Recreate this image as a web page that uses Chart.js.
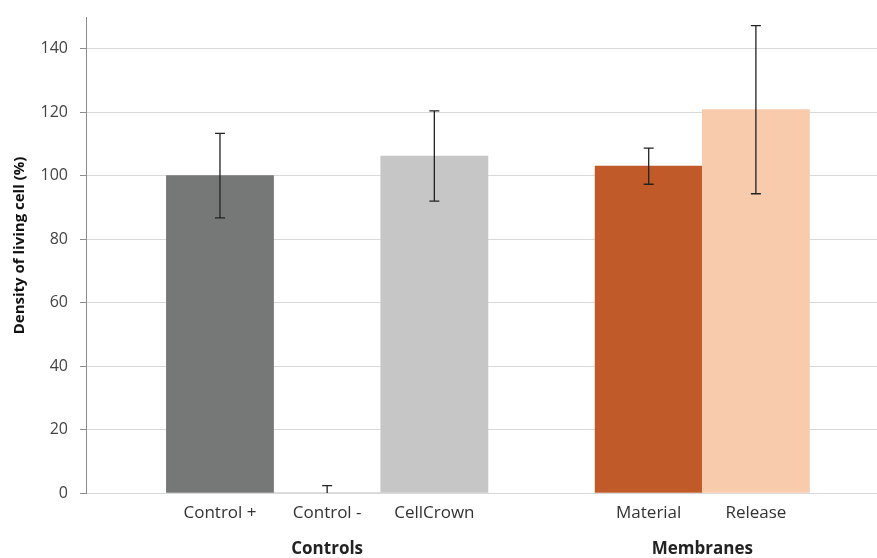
<!DOCTYPE html>
<html>
<head>
<meta charset="utf-8">
<script src="https://cdn.jsdelivr.net/npm/chart.js@4.4.1/dist/chart.umd.min.js"></script>
<style>
  body { margin: 0; background: #fff; }
  #wrap { width: 877px; height: 558px; }
</style>
</head>
<body>
<div id="wrap"><canvas id="cells"></canvas></div>
<script>
// data ('' is the empty slot between the two groups)
const categories = ["Control +", "Control -", "CellCrown", "", "Material", "Release"];
const groupOf = ["Controls", "Controls", "Controls", "", "Membranes", "Membranes"];
const density = [100, 0, 106.2, null, 103, 120.8];
const errors = [13.3, 2.3, 14.2, null, 5.7, 26.5];
const colors = ["#767877", "#767877", "#c6c6c6", "#ffffff", "#c05a28", "#f8cbad"];
const yTicks = [0, 20, 40, 60, 80, 100, 120, 140];
const yTitle = "Density of living cell (%)";

const font = "'Open Sans', sans-serif";

const points = [];
const barColors = [];
categories.forEach((c, i) => {
  if (density[i] === null) return;
  points.push({ x: i, y: density[i], err: errors[i] });
  barColors.push(colors[i]);
});

// error bars
const errorBars = {
  id: "errorBars",
  afterDatasetsDraw(chart) {
    const ctx = chart.ctx;
    const y = chart.scales.y;
    const meta = chart.getDatasetMeta(0);
    ctx.save();
    ctx.strokeStyle = "#222";
    ctx.lineWidth = 1.3;
    meta.data.forEach((bar, i) => {
      const p = points[i];
      const top = y.getPixelForValue(p.y + p.err);
      const bot = y.getPixelForValue(Math.max(0, p.y - p.err));
      ctx.beginPath();
      ctx.moveTo(bar.x, top);
      ctx.lineTo(bar.x, bot);
      ctx.moveTo(bar.x - 5, top);
      ctx.lineTo(bar.x + 5, top);
      if (p.y - p.err > 0) {
        ctx.moveTo(bar.x - 5, bot);
        ctx.lineTo(bar.x + 5, bot);
      }
      ctx.stroke();
    });
    ctx.restore();
  }
};

// group names under the category labels + the y title
const extraText = {
  id: "extraText",
  afterDraw(chart) {
    const ctx = chart.ctx;
    const x = chart.scales.x;
    const area = chart.chartArea;
    const names = [...new Set(groupOf.filter(g => g))];
    ctx.save();
    ctx.font = "bold 17px " + font;
    ctx.fillStyle = "#222";
    ctx.textAlign = "center";
    ctx.textBaseline = "middle";
    names.forEach(name => {
      const idx = groupOf.map((g, i) => g === name ? i : null).filter(i => i !== null);
      const mid = (idx[0] + idx[idx.length - 1]) / 2;
      ctx.fillText(name, x.getPixelForValue(mid), area.bottom + 56);
    });
    ctx.translate(20, area.top + (area.bottom - area.top) * 0.48);
    ctx.rotate(-Math.PI / 2);
    ctx.font = "bold 15px " + font;
    ctx.fillStyle = "#111";
    ctx.fillText(yTitle, 0, 0);
    ctx.restore();
  }
};

new Chart(document.getElementById("cells"), {
  type: "bar",
  data: {
    datasets: [{
      data: points,
      backgroundColor: barColors,
      borderWidth: 0,
      barPercentage: 1,
      categoryPercentage: 1
    }]
  },
  options: {
    responsive: true,
    maintainAspectRatio: false,
    animation: false,
    layout: { padding: { top: 17, right: 0 } },
    plugins: { legend: { display: false }, tooltip: { enabled: false } },
    scales: {
      x: {
        type: "linear",
        offset: false,
        min: -1.25,
        max: 6.13,
        grid: { display: false },
        border: { color: "#d9d9d9" },
        afterFit(s) { s.height = 65; s.paddingLeft = 0; s.paddingRight = 0; },
        ticks: {
          stepSize: 1,
          includeBounds: false,
          autoSkip: false,
          maxRotation: 0,
          padding: 2,
          color: "#333",
          font: { family: font, size: 17 },
          callback: v => categories[v] || ""
        }
      },
      y: {
        min: 0,
        max: 150,
        afterFit(s) { s.width = 86; s.paddingTop = 0; s.paddingBottom = 0; },
        afterBuildTicks(s) { s.ticks = yTicks.map(v => ({ value: v })); },
        grid: { color: "#d9d9d9", tickColor: "#8c8c8c", tickLength: 6 },
        border: { color: "#8c8c8c" },
        ticks: {
          padding: 12,
          color: "#444",
          font: { family: font, size: 16 }
        }
      }
    }
  },
  plugins: [errorBars, extraText]
});
</script>
</body>
</html>
